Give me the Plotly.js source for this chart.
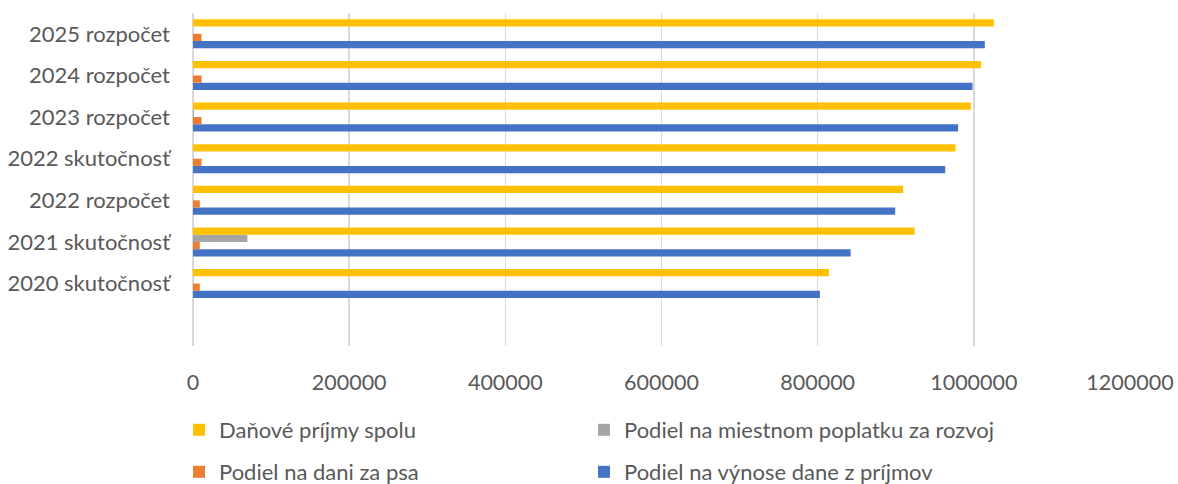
<!DOCTYPE html>
<html><head><meta charset="utf-8">
<script src="https://cdn.plot.ly/plotly-3.0.1.min.js"></script>
<style>html,body{margin:0;padding:0;background:#fff;}#chart{width:1178px;height:484px;}</style>
</head><body><div id="chart"></div>
<script>
const categories = ["2020 skutočnosť","2021 skutočnosť","2022 rozpočet","2022 skutočnosť","2023 rozpočet","2024 rozpočet","2025 rozpočet"];
const danovePrijmySpolu = [814500, 924100, 909500, 976600, 996200, 1009300, 1025600];
const podielMiestnyPoplatok = [0, 69700, 0, 0, 1200, 0, 0];
const podielDanZaPsa = [8700, 8700, 8700, 11000, 11000, 11000, 10900];
const podielVynosDane = [802900, 842200, 899300, 963300, 979900, 998300, 1014100];
const xTicks = [0, 200000, 400000, 600000, 800000, 1000000, 1200000];

const FONT = "Lato, 'Open Sans', sans-serif";
const TXT = "#595959";

const traces = [
  {name:"Podiel na výnose dane z príjmov", x:podielVynosDane, color:"#4472C4", legend:"legend4"},
  {name:"Podiel na dani za psa", x:podielDanZaPsa, color:"#ED7D31", legend:"legend3"},
  {name:"Podiel na miestnom poplatku za rozvoj", x:podielMiestnyPoplatok, color:"#A5A5A5", legend:"legend2"},
  {name:"Daňové príjmy spolu", x:danovePrijmySpolu, color:"#FFC000", legend:"legend"}
].map(t => ({
  type:"bar", orientation:"h", name:t.name, x:t.x, y:categories,
  marker:{color:t.color}, legend:t.legend, hoverinfo:"x+name"
}));

const legendBase = {
  orientation:"h", xref:"container", yref:"container", xanchor:"left", yanchor:"middle",
  font:{family:FONT, size:22, color:TXT}, bgcolor:"rgba(0,0,0,0)", itemclick:false
};
const col1 = 179/1178, col2 = 584/1178, row1 = 1-430/484, row2 = 1-472/484;

const layout = {
  width:1178, height:484,
  margin:{l:192.5, r:48, t:12.7, b:138},
  paper_bgcolor:"#fff", plot_bgcolor:"#fff",
  barmode:"group", bargap:0.306, bargroupgap:0,
  font:{family:FONT, color:TXT},
  showlegend:true,
  xaxis:{
    range:[0,1200000], tickvals:xTicks, ticktext:xTicks.map(String),
    showgrid:true, gridcolor:"#d9d9d9", gridwidth:1.5,
    zeroline:true, zerolinecolor:"#d9d9d9", zerolinewidth:1.5,
    showline:false, ticks:"", ticklabelstandoff:21,
    tickfont:{family:FONT, size:21.5, color:TXT}, fixedrange:true
  },
  yaxis:{
    type:"category", categoryorder:"array", categoryarray:categories,
    range:[-1.5, 6.5], showgrid:false, zeroline:false, showline:false, ticks:"",
    ticklabelstandoff:22,
    tickfont:{family:FONT, size:22, color:TXT}, fixedrange:true
  },
  legend:Object.assign({}, legendBase, {x:col1, y:row1}),
  legend2:Object.assign({}, legendBase, {x:col2, y:row1}),
  legend3:Object.assign({}, legendBase, {x:col1, y:row2}),
  legend4:Object.assign({}, legendBase, {x:col2, y:row2})
};

Plotly.newPlot("chart", traces, layout, {displayModeBar:false, staticPlot:true});
</script></body></html>
